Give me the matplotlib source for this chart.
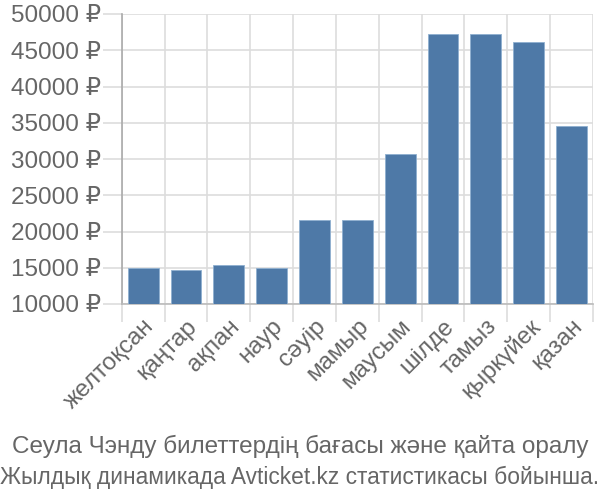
import numpy as np
import matplotlib
matplotlib.use("Agg")
import matplotlib.pyplot as plt

plt.rcParams['font.family'] = ['Liberation Sans', 'DejaVu Sans']

months = ['желтоқсан', 'қаңтар', 'ақпан', 'наур', 'сәуір', 'мамыр',
          'маусым', 'шілде', 'тамыз', 'қыркүйек', 'қазан']
prices = [14930, 14700, 15440, 14930, 21520, 21520,
          30640, 47210, 47210, 46150, 34500]
yticks = [10000, 15000, 20000, 25000, 30000, 35000, 40000, 45000, 50000]

title_lines = ['Сеула Чэнду билеттердің бағасы және қайта оралу',
               'Жылдық динамикада Avticket.kz статистикасы бойынша.']

text_col = '#666666'
grid_col = '#dddddd'

fig = plt.figure(figsize=(6, 5), dpi=100)
ax = fig.add_axes([0.203, 0.392, 0.785, 0.58])

x = np.arange(len(months))
ax.bar(x, prices, width=0.72, bottom=0, color='#4e79a7',
       edgecolor='#8fb0d0', linewidth=0.6, zorder=3)

ax.set_xlim(-0.5, len(months) - 0.5)
ax.set_ylim(10000, 50000)

ax.set_yticks(yticks)
ax.set_yticklabels([f'{v} ₽' for v in yticks])
ax.set_xticks(x)
ax.set_xticklabels(months, rotation=45, ha='right', rotation_mode='anchor')
ax.set_xticks(np.arange(len(months) + 1) - 0.5, minor=True)

ax.tick_params(axis='x', which='major', length=0, pad=8,
               labelsize=17.5, labelcolor=text_col)
ax.tick_params(axis='x', which='minor', length=13, color=grid_col, width=1.2)
ax.tick_params(axis='y', length=14, color=grid_col, width=1.2,
               labelsize=17.5, labelcolor=text_col, pad=1)

ax.grid(axis='y', color=grid_col, linewidth=1.2, zorder=0)
ax.grid(axis='x', which='minor', color=grid_col, linewidth=1.2, zorder=0)
ax.grid(axis='x', which='major', visible=False)

for s in ['top', 'right']:
    ax.spines[s].set_visible(False)
ax.spines['left'].set_color('#aaaaaa')
ax.spines['left'].set_linewidth(1.2)
ax.spines['bottom'].set_color('#bbbbbb')
ax.spines['bottom'].set_linewidth(1.2)

fig.text(0.5, 0.107, title_lines[0], ha='center', va='center',
         fontsize=17.5, color=text_col)
fig.text(0.5, 0.045, title_lines[1], ha='center', va='center',
         fontsize=16.4, color=text_col)

fig.savefig('out.png', dpi=100)
